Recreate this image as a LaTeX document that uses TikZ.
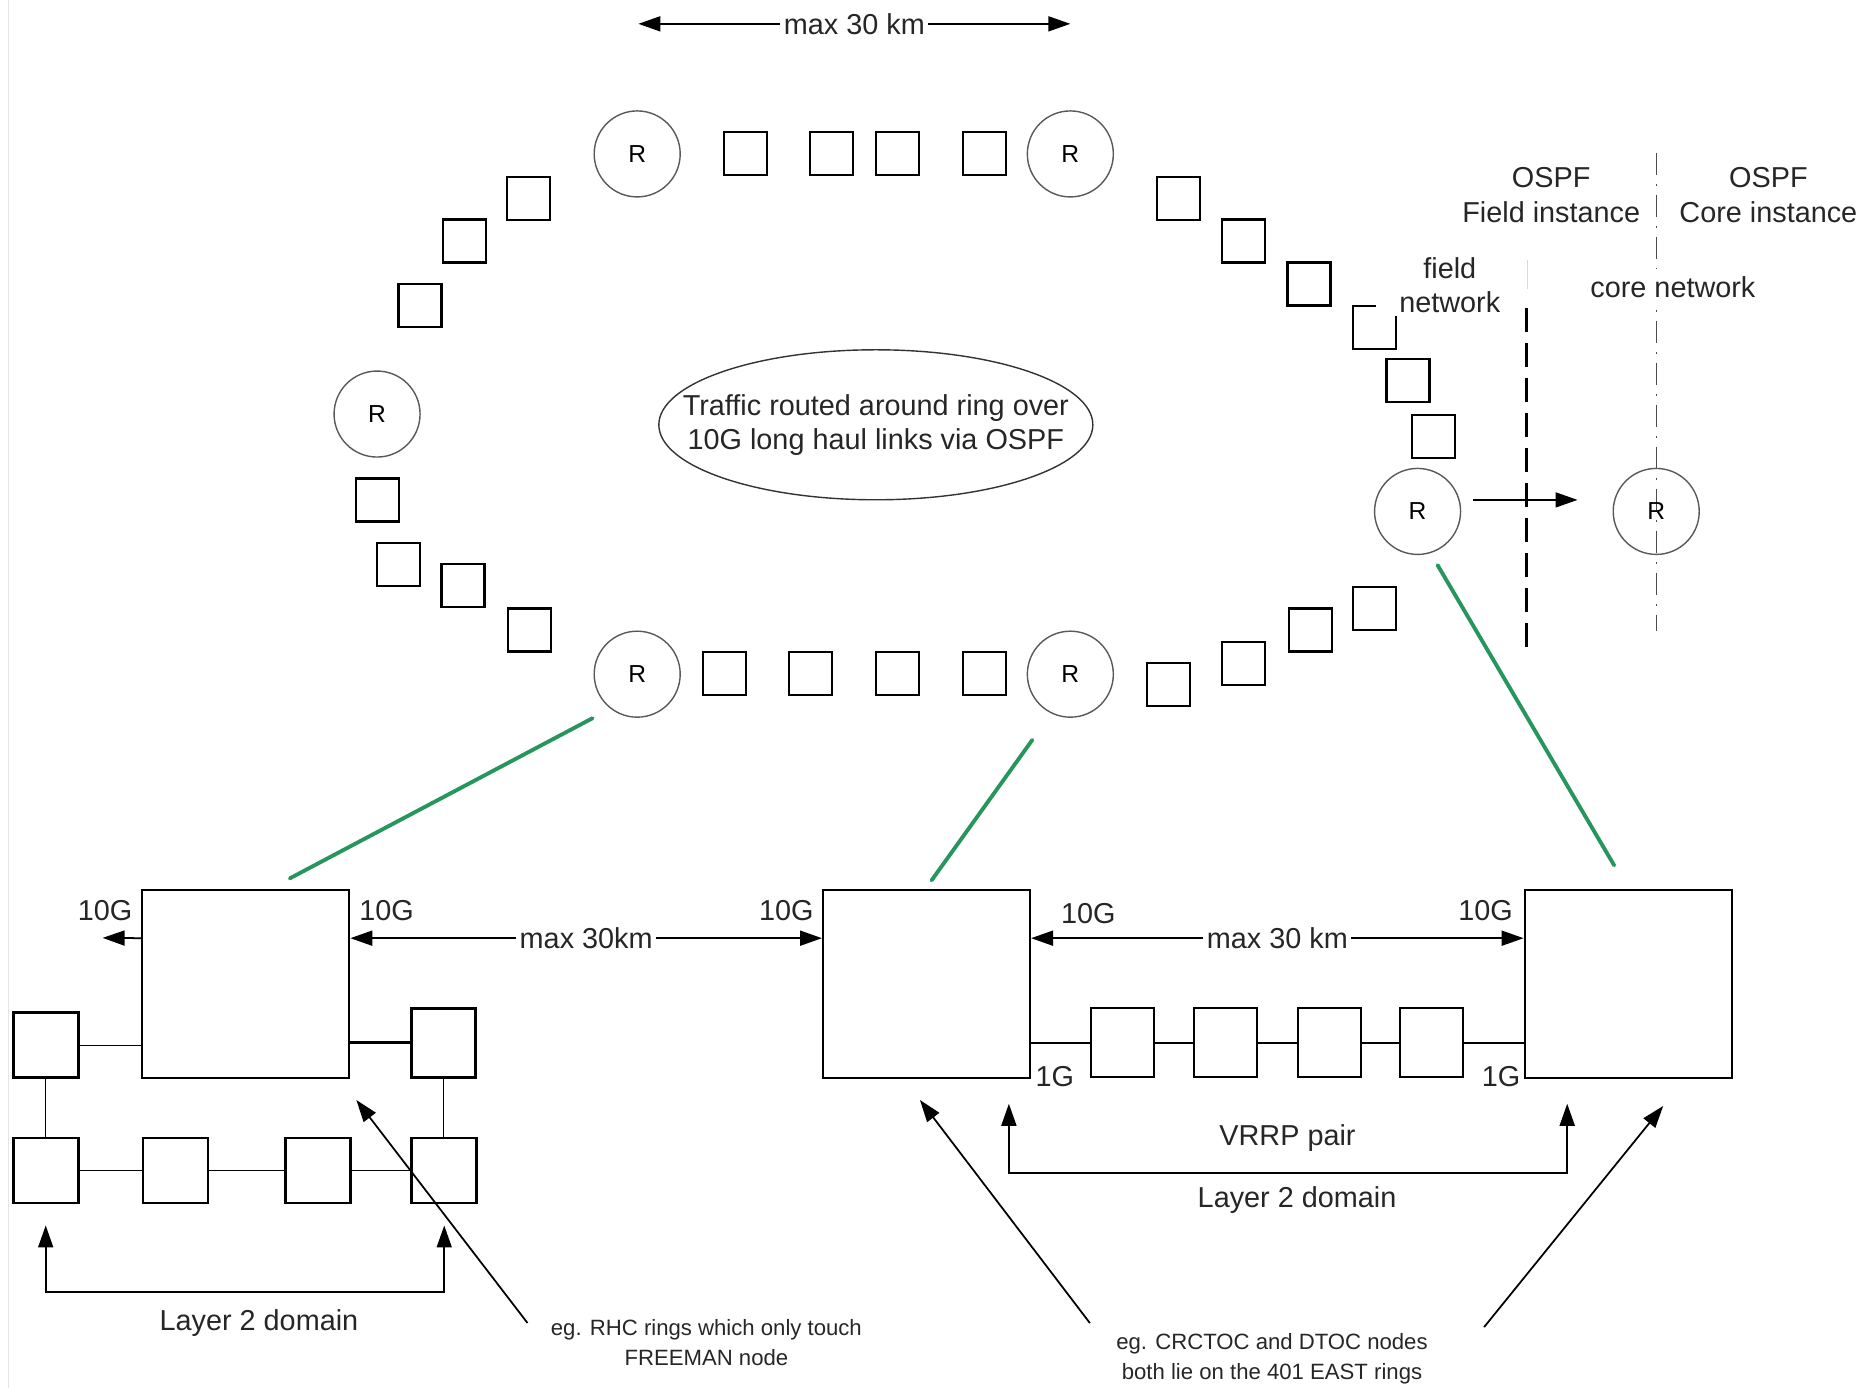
\documentclass[tikz,border=0pt]{standalone}
\usepackage{fontspec}
\setmainfont{Liberation Sans}
\usetikzlibrary{arrows.meta, positioning, shapes.geometric}
\definecolor{linkgreen}{RGB}{38,150,92}
\newcommand{\netsize}{\fontsize{8.2}{9.8}\selectfont}
\newcommand{\rsize}{\fontsize{7}{8}\selectfont}
\newcommand{\notesize}{\fontsize{6.3}{8.5}\selectfont}

\begin{document}
\begin{tikzpicture}[
    x=0.011932cm, y=-0.011932cm,
    pointer/.style={-{Triangle[length=2.2mm,width=1.5mm]}, line width=0.5pt},
    spanarrow/.style={{Triangle[length=2.2mm,width=1.5mm]}-{Triangle[length=2.2mm,width=1.5mm]},
                      line width=0.5pt},
    router/.style={circle, draw=gray!70!black, thin, minimum size=8.6mm,
                   inner sep=0pt, font=\rsize},
    ringbox/.style={draw, line width=0.6pt, minimum size=4.3mm, inner sep=0pt},
    sitebox/.style={draw, line width=0.6pt, minimum width=20.7mm,
                    minimum height=18.75mm, inner sep=0pt},
    swbox/.style={draw, line width=0.8pt, minimum size=6.5mm, inner sep=0pt},
    chainbox/.style={draw, line width=0.6pt, minimum width=6.3mm,
                     minimum height=6.9mm, inner sep=0pt},
    uplink/.style={draw=linkgreen, line width=1.1pt, line cap=round},
    lbl/.style={font=\netsize, text=black!85, inner sep=1pt},
    note/.style={font=\notesize, text=black!85, align=center},
]
\useasboundingbox (0,0) rectangle (1568,1163);
\draw[gray!20] (7,0) -- (7,1163);

\coordinate (spanl) at (535,20);
\coordinate (spanr) at (897,20);
\draw[spanarrow] (spanl) -- node[lbl, fill=white] (spanlbl) {max 30 km} (spanr);

\draw[gray!30] (1280,218) -- (1280,242);
\draw[line width=0.9pt, dash pattern=on 2.4mm off 1.1mm] (1279,258) -- (1279,547);
\draw[gray!60!black, dash pattern=on 2.2mm off 0.9mm on 0.2mm off 0.9mm] (1388,128) -- (1388,529);

\node[router] (rtl) at (534,129) {R};
\node[router] (rtr) at (897,129) {R};
\node[router] (rml) at (316,347) {R};
\node[router] (rbl) at (534,565) {R};
\node[router] (rbr) at (897,565) {R};
\node[router] (rfe) at (1188,428.6) {R};
\node[router] (rco) at (1388,428.6) {R};

\foreach \x/\y [count=\i] in {625/129, 697/129, 752/129, 825/129,
    443/166, 389/202, 352/256, 316/419, 334/473, 388/491, 444/528,
    607/564.7, 679/564.7, 752/564.7, 825/564.7,
    979/574, 1042/556, 1098/528, 1152/510,
    988/166, 1042/202, 1097/238, 1152/274.5, 1180/319, 1201/366}
  \node[ringbox] (sq\i) at (\x,\y) {};

\node[ellipse, draw=gray!40!black, thin, minimum width=4.34cm, minimum height=1.5cm,
      inner xsep=-4.5mm, inner ysep=0pt, align=center, font=\netsize, text=black!85]
      (ospfnote) at (734,356) {Traffic routed around ring over\\10G long haul links via OSPF};

\node[lbl, align=center] (fieldinst) at (1300,163.5) {OSPF\\Field instance};
\node[lbl, align=center] (coreinst) at (1482,163.5) {OSPF\\Core instance};
\node[lbl, align=center, fill=white, inner xsep=2.3mm, inner ysep=0.3mm]
      (fieldnet) at (1215,239) {field\\network};
\node[lbl, fill=white, inner ysep=2pt] (corenet) at (1402,240.5) {core network};

\draw[pointer] ([shift={(1.2mm,1.15mm)}]rfe.east) -- ([shift={(-3.5mm,1.15mm)}]rco.west);

\node[sitebox] (sitea) at (206,824.8) {};
\node[sitebox] (siteb) at (776.5,824.8) {};
\node[sitebox] (sitec) at (1364.5,824.8) {};

\draw[uplink] ([shift={(-1.37mm,-1.31mm)}]rbl.south west) -- ([shift={(4.4mm,1.1mm)}]sitea.north);
\draw[uplink] ([shift={(-3.8mm,-2.2mm)}]rbr.south) -- ([shift={(0.5mm,0.9mm)}]siteb.north);
\draw[uplink] ([shift={(2.0mm,-1.0mm)}]rfe.south) -- ([shift={(-1.4mm,2.4mm)}]sitec.north);

\coordinate (westend) at (86,786);
\draw[pointer] ([yshift=4.6mm]sitea.west) -- (westend);
\draw[spanarrow] ([yshift=4.6mm]sitea.east) -- node[lbl, fill=white] (spanab) {max 30km} ([yshift=4.6mm]siteb.west);
\draw[spanarrow] ([yshift=4.6mm]siteb.east) -- node[lbl, fill=white] (spanbc) {max 30 km} ([yshift=4.6mm]sitec.west);

\node[lbl] (ga) at (88,763) {10G};
\node[lbl] (gb) at (324,763) {10G};
\node[lbl] (gc) at (659,763) {10G};
\node[lbl] (gd) at (912,766) {10G};
\node[lbl] (ge) at (1245,763) {10G};
\node[lbl] (gf) at (884,902) {1G};
\node[lbl] (gg) at (1258,902) {1G};

\node[swbox] (swa) at (38.3,876) {};
\node[swbox, minimum width=6.4mm, minimum height=6.9mm] (swb) at (371.5,874) {};
\node[swbox] (swc) at (38.3,981) {};
\node[swbox] (swd) at (147,981) {};
\node[swbox] (swe) at (266.3,981) {};
\node[swbox] (swf) at (372.3,981) {};
\draw (swa.east) -- (swa.east -| sitea.west);
\draw[line width=0.8pt] (swb.west -| sitea.east) -- (swb.west);
\draw (swa) -- (swc);
\draw (swb.south) -- (swb.south |- swf.north);
\draw (swc) -- (swd) -- (swe) -- (swf);

\node[chainbox] (cb1) at (941,874) {};
\node[chainbox] (cb2) at (1027,874) {};
\node[chainbox] (cb3) at (1114,874) {};
\node[chainbox] (cb4) at (1200,874) {};
\draw[line width=0.6pt] (siteb.east |- cb1) -- (cb1) -- (cb2) -- (cb3) -- (cb4) -- (cb4 -| sitec.west);

\coordinate (l2base) at (217,1083);
\draw[spanarrow] ([yshift=-2.1mm]swc.south) |- (l2base) -| ([yshift=-2.1mm]swf.south);
\node[lbl] (l2left) at (217,1109) {Layer 2 domain};

\coordinate (vrl) at (845.5,925);
\coordinate (vrr) at (1313.4,925);
\coordinate (vrbase) at (1080,983);
\draw[spanarrow] (vrl) |- (vrbase) -| (vrr);
\node[lbl] (vrrp) at (1079,953.4) {VRRP pair};
\node[lbl] (l2mid) at (1087,1005.7) {Layer 2 domain};

\node[note] (rhcnote) at (592,1125.5) {eg. RHC rings which only touch\\FREEMAN node};
\node[note] (tocnote) at (1066,1139) {eg. CRCTOC and DTOC nodes\\both lie on the 401 EAST rings};
\draw[pointer] ([shift={(-1.1mm,2.0mm)}]rhcnote.west) -- ([shift={(0.6mm,-2.1mm)}]sitea.south east);
\draw[pointer] ([shift={(-1.4mm,3.6mm)}]tocnote.west) -- ([shift={(-0.66mm,-2.1mm)}]siteb.south);
\draw[pointer] ([shift={(4.4mm,3.2mm)}]tocnote.east) -- ([shift={(3.5mm,-2.7mm)}]sitec.south);
\end{tikzpicture}
\end{document}
